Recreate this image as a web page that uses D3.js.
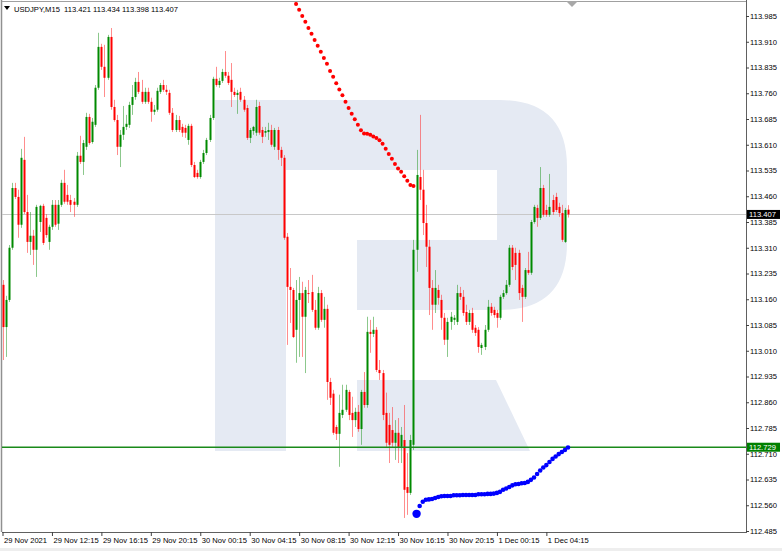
<!DOCTYPE html>
<html><head><meta charset="utf-8">
<script src="https://cdn.jsdelivr.net/npm/d3@7"></script>
<style>body{margin:0;background:#fff}svg{display:block}text{font-family:"Liberation Sans",Arial,sans-serif}</style>
</head><body>
<svg id="c" width="782" height="551"></svg>
<script>
// ---- data (USDJPY M15, bar 0 = 29 Nov 2021 08:15) ----
const symbol = "USDJPY,M15";
const openV = [113.202,113.079,113.158,113.310,113.484,113.458,113.377,113.566,113.414,113.327,
113.345,113.304,113.385,113.432,113.397,113.327,113.371,113.435,113.380,113.435,
113.499,113.464,113.449,113.444,113.435,113.578,113.560,113.604,113.691,113.618,
113.668,113.776,113.895,113.837,113.805,113.924,113.720,113.682,113.604,113.639,
113.662,113.668,113.726,113.749,113.793,113.764,113.735,113.764,113.735,113.706,
113.712,113.764,113.784,113.770,113.761,113.703,113.653,113.682,113.662,113.659,
113.624,113.665,113.551,113.528,113.516,113.560,113.586,113.624,113.688,113.802,
113.784,113.796,113.822,113.811,113.799,113.764,113.755,113.764,113.741,113.717,
113.630,113.650,113.645,113.723,113.653,113.645,113.647,113.653,113.604,113.653,
113.595,113.572,113.342,113.196,113.187,113.071,113.158,113.178,113.109,113.178,
113.181,113.129,113.077,113.178,113.100,113.132,112.919,112.885,112.788,112.768,
112.823,112.838,112.890,112.829,112.808,112.832,112.782,112.890,112.852,113.065,
113.059,113.071,112.954,112.945,112.829,112.794,112.779,112.742,112.771,112.730,
112.750,112.613,112.596,112.736,113.304,113.516,113.479,113.382,113.313,113.193,
113.144,113.187,113.158,113.106,113.042,113.094,113.100,113.094,113.178,113.167,
113.123,113.094,113.120,113.077,113.071,113.018,113.021,113.071,113.138,113.129,
113.120,113.106,113.167,113.178,113.202,113.310,113.295,113.295,113.193,113.167,
113.245,113.237,113.385,113.426,113.397,113.484,113.420,113.406,113.449,113.458,
113.429,113.411,113.327,113.421];
const highV = [113.216,113.170,113.318,113.499,113.499,113.479,113.598,113.633,113.464,113.414,
113.362,113.435,113.435,113.438,113.408,113.377,113.449,113.449,113.449,113.508,
113.537,113.493,113.464,113.455,113.589,113.636,113.624,113.703,113.700,113.688,
113.784,113.936,113.904,113.901,113.930,113.950,113.741,113.697,113.653,113.723,
113.697,113.735,113.784,113.805,113.822,113.799,113.776,113.776,113.747,113.726,
113.776,113.790,113.799,113.784,113.770,113.717,113.697,113.694,113.671,113.668,
113.671,113.671,113.560,113.537,113.566,113.595,113.630,113.697,113.808,113.837,
113.805,113.831,113.883,113.822,113.848,113.776,113.770,113.776,113.752,113.726,
113.659,113.665,113.741,113.735,113.662,113.662,113.674,113.668,113.659,113.662,
113.604,113.580,113.353,113.251,113.193,113.216,113.225,113.211,113.196,113.216,
113.231,113.158,113.196,113.187,113.167,113.144,112.931,112.896,112.794,112.882,
112.911,112.911,112.896,112.876,112.844,112.852,112.896,112.948,113.109,113.100,
113.109,113.079,112.983,112.954,112.888,112.829,112.846,112.808,112.814,112.788,
112.852,112.712,112.765,113.333,113.595,113.697,113.537,113.435,113.333,113.216,
113.245,113.202,113.173,113.120,113.106,113.123,113.114,113.202,113.196,113.187,
113.144,113.129,113.135,113.085,113.079,113.033,113.085,113.158,113.149,113.138,
113.129,113.173,113.187,113.216,113.318,113.318,113.310,113.304,113.202,113.251,
113.298,113.391,113.435,113.435,113.545,113.493,113.435,113.525,113.464,113.470,
113.441,113.435,113.426,113.434];
const lowV = [112.983,112.992,113.152,113.304,113.452,113.339,113.368,113.408,113.295,113.289,
113.260,113.225,113.356,113.318,113.339,113.304,113.362,113.371,113.362,113.429,
113.438,113.435,113.414,113.400,113.429,113.554,113.522,113.595,113.610,113.613,
113.662,113.770,113.828,113.749,113.799,113.712,113.677,113.580,113.545,113.624,
113.653,113.659,113.697,113.741,113.758,113.729,113.729,113.729,113.677,113.697,
113.706,113.758,113.764,113.755,113.697,113.647,113.647,113.647,113.633,113.630,
113.610,113.545,113.513,113.511,113.511,113.554,113.580,113.618,113.682,113.779,
113.776,113.790,113.805,113.784,113.720,113.749,113.700,113.735,113.706,113.624,
113.615,113.639,113.636,113.639,113.615,113.633,113.624,113.604,113.595,113.566,
113.548,113.333,113.027,113.091,113.047,112.975,112.992,112.992,112.945,113.149,
113.123,113.071,113.071,113.094,113.077,112.867,112.852,112.765,112.750,112.672,
112.814,112.832,112.808,112.759,112.788,112.774,112.736,112.844,112.844,113.004,
113.050,112.948,112.925,112.808,112.730,112.683,112.730,112.692,112.683,112.683,
112.523,112.532,112.590,112.721,113.240,113.449,113.347,113.254,113.114,113.071,
113.120,113.144,113.071,113.027,112.992,113.071,113.085,113.085,113.158,113.112,
113.085,113.085,113.062,113.053,113.004,112.998,113.012,113.065,113.112,113.106,
113.077,113.100,113.161,113.173,113.196,113.245,113.216,113.158,113.094,113.161,
113.231,113.231,113.380,113.371,113.391,113.400,113.400,113.400,113.406,113.414,
113.400,113.327,113.324,113.398];
const closeV = [113.079,113.158,113.310,113.484,113.458,113.377,113.572,113.414,113.327,113.345,
113.304,113.429,113.432,113.324,113.347,113.371,113.435,113.377,113.435,113.499,
113.444,113.444,113.435,113.435,113.578,113.560,113.615,113.691,113.615,113.677,
113.776,113.895,113.837,113.805,113.924,113.720,113.682,113.604,113.639,113.662,
113.671,113.726,113.749,113.793,113.764,113.735,113.764,113.735,113.706,113.712,
113.767,113.784,113.770,113.764,113.703,113.653,113.682,113.653,113.645,113.645,
113.665,113.551,113.516,113.516,113.560,113.586,113.624,113.688,113.802,113.784,
113.796,113.822,113.811,113.790,113.764,113.755,113.761,113.741,113.712,113.630,
113.653,113.662,113.720,113.645,113.633,113.650,113.653,113.610,113.653,113.595,
113.572,113.339,113.196,113.187,113.050,113.158,113.178,113.109,113.187,113.176,
113.129,113.077,113.178,113.100,113.132,112.919,112.873,112.771,112.768,112.829,
112.838,112.896,112.823,112.808,112.832,112.782,112.890,112.852,113.065,113.059,
113.071,112.954,112.945,112.823,112.742,112.736,112.742,112.771,112.730,112.765,
112.605,112.596,112.750,113.304,113.522,113.479,113.382,113.313,113.193,113.144,
113.193,113.164,113.106,113.042,113.094,113.109,113.106,113.178,113.167,113.120,
113.094,113.120,113.071,113.062,113.021,113.027,113.071,113.138,113.120,113.114,
113.106,113.167,113.178,113.202,113.310,113.254,113.260,113.178,113.167,113.245,
113.237,113.385,113.429,113.397,113.484,113.406,113.406,113.429,113.414,113.420,
113.411,113.333,113.420,113.407];

// red dotted indicator, starts at bar 95
const redStart = 95;
const redDots = [114.020,114.003,113.985,113.968,113.950,113.933,113.915,113.898,113.881,113.863,
113.846,113.825,113.808,113.789,113.771,113.754,113.735,113.717,113.700,113.684,
113.668,113.652,113.643,113.642,113.639,113.634,113.630,113.623,113.613,113.598,
113.583,113.569,113.554,113.541,113.531,113.518,113.505,113.493,113.490];
// blue dotted indicator, starts at bar 134
const blueStart = 134;
const blueDots = [112.535,112.558,112.570,112.576,112.577,112.578,112.581,112.584,112.586,112.587,
112.587,112.587,112.589,112.589,112.589,112.590,112.590,112.590,112.590,112.590,
112.592,112.592,112.592,112.593,112.593,112.594,112.596,112.599,112.605,112.609,
112.613,112.618,112.621,112.622,112.624,112.625,112.628,112.634,112.641,112.651,
112.661,112.670,112.677,112.686,112.695,112.702,112.709,112.715,112.721,112.728];

const priceTicks = ["113.985","113.910","113.835","113.760","113.685","113.610","113.535","113.460",
"113.385","113.310","113.235","113.160","113.085","113.010","112.935","112.860","112.785",
"112.710","112.635","112.560","112.485"];
const timeTickBars = [0,16,32,48,64,80,96,112,128,144,160,176];
const timeLabels = ["29 Nov 2021","29 Nov 12:15","29 Nov 16:15","29 Nov 20:15","30 Nov 00:15",
"30 Nov 04:15","30 Nov 08:15","30 Nov 12:15","30 Nov 16:15","30 Nov 20:15","1 Dec 00:15","1 Dec 04:15"];
const lastPrice = 113.407;
const levelPrice = 112.729;

// ---- layout ----
const svg = d3.select("#c");
const L = 2, R = 746, T = 2, B = 532;
const y = d3.scaleLinear().domain([112.485, 113.985]).range([531, 16]);
const x = d3.scaleLinear().domain([0, 183]).range([2.5, 568]);
const n = closeV.length;

svg.append("defs").append("clipPath").attr("id","pc")
  .append("rect").attr("x",L).attr("y",T).attr("width",R-L).attr("height",B-T);

// watermark logo
const wm = svg.append("g").attr("fill","#e5eaf3").attr("clip-path","url(#pc)");
wm.append("rect").attr("x",215).attr("y",100).attr("width",71).attr("height",351);
wm.append("path").attr("d",
  "M286,100 L500,100 Q567,100 567,167 L567,243 Q567,310 500,310 L357,310 L357,240 L497,240 L497,170 L286,170 Z");
wm.append("path").attr("d","M357,380 L496,380 L530,451 L357,451 Z");

// frame
svg.append("line").attr("x1",1.5).attr("x2",1.5).attr("y1",0).attr("y2",B).attr("stroke","#909090").attr("stroke-width",1.5);
svg.append("line").attr("x1",L).attr("x2",R).attr("y1",1.5).attr("y2",1.5).attr("stroke","#a0a0a0");
svg.append("rect").attr("x",0).attr("y",548).attr("width",782).attr("height",3).attr("fill","#eeeeee");

const plot = svg.append("g").attr("clip-path","url(#pc)");

// current price line
plot.append("line").attr("x1",L).attr("x2",R).attr("y1",Math.round(y(lastPrice))+0.5).attr("y2",Math.round(y(lastPrice))+0.5)
  .attr("stroke","#c8c8c8").attr("stroke-width",1);

// candles
const idx = d3.range(n);
const up = i => closeV[i] >= openV[i];
const cg = plot.append("g");
cg.selectAll("line.w").data(idx).join("line").attr("class","w")
  .attr("x1",i=>Math.round(x(i))+0.5).attr("x2",i=>Math.round(x(i))+0.5)
  .attr("y1",i=>y(highV[i])).attr("y2",i=>y(lowV[i]))
  .attr("stroke",i=>up(i)?"#2e9a2e":"#ff3030").attr("stroke-opacity",0.55).attr("stroke-width",1);
cg.selectAll("rect.b").data(idx).join("rect").attr("class","b")
  .attr("x",i=>Math.round(x(i))-0.5).attr("width",2)
  .attr("y",i=>y(Math.max(openV[i],closeV[i])))
  .attr("height",i=>Math.max(1,Math.abs(y(openV[i])-y(closeV[i]))))
  .attr("fill",i=>up(i)?"#008a00":"#ff0000");

// level line
plot.append("line").attr("x1",L).attr("x2",R).attr("y1",y(levelPrice)).attr("y2",y(levelPrice))
  .attr("stroke","#1a8a1a").attr("stroke-width",1.4);

// red dots
plot.append("g").selectAll("circle").data(redDots).join("circle")
  .attr("cx",(d,k)=>x(redStart+k)).attr("cy",d=>y(d)).attr("r",2).attr("fill","#ff0000");
// blue dots
plot.append("g").selectAll("circle").data(blueDots).join("circle")
  .attr("cx",(d,k)=>x(blueStart+k)).attr("cy",d=>y(d)).attr("r",(d,k)=>k===0?4.2:2.3).attr("fill","#0000ff");

// right axis
const ya = d3.axisRight(y).tickValues(priceTicks.map(Number)).tickSize(3).tickPadding(1)
  .tickFormat((d,k)=>priceTicks[k]);
const yg = svg.append("g").attr("transform",`translate(${R},0)`).call(ya);
yg.select(".domain").attr("d",`M0.5,0V${B}`).attr("stroke","#606060");
yg.selectAll(".tick line").attr("stroke","#404040");
yg.selectAll(".tick text").attr("font-size","7.6px").attr("fill","#000").attr("font-family","Liberation Sans, Arial, sans-serif");

// bottom axis
const xa = d3.axisBottom(x).tickValues(timeTickBars).tickSize(4).tickFormat((d,k)=>timeLabels[k]);
const xg = svg.append("g").attr("transform",`translate(0,${B})`).call(xa);
xg.select(".domain").attr("d",`M${L},0.5H${R+1}`).attr("stroke","#606060");
xg.selectAll(".tick line").attr("stroke","#404040");
xg.selectAll(".tick text").attr("font-size","7.6px").attr("fill","#000").attr("text-anchor","start")
  .attr("x",1).attr("y",10.5).attr("dy",0).attr("font-family","Liberation Sans, Arial, sans-serif");

// price labels on axis
function tag(p, bg){
  const yy = y(p);
  svg.append("rect").attr("x",R+1).attr("y",yy-4.5).attr("width",33).attr("height",9).attr("fill",bg);
  svg.append("text").attr("x",R+3).attr("y",yy+2.8).attr("font-size","7.6px").attr("fill","#fff").text(p.toFixed(3));
}
tag(lastPrice,"#000000");
tag(levelPrice,"#008000");

// header
svg.append("path").attr("d","M4,6 L10,6 L7,10 Z").attr("fill","#000");
svg.append("text").attr("x",14).attr("y",11.5).attr("font-size","7.6px").attr("fill","#000")
  .style("white-space","pre")
  .text(`${symbol}  ${openV[n-1].toFixed(3)} ${highV[n-1].toFixed(3)} ${lowV[n-1].toFixed(3)} ${closeV[n-1].toFixed(3)}`);

// shift marker
svg.append("path").attr("d","M566,1 L578,1 L572,7 Z").attr("fill","#a8a8a8");
</script>
</body></html>
